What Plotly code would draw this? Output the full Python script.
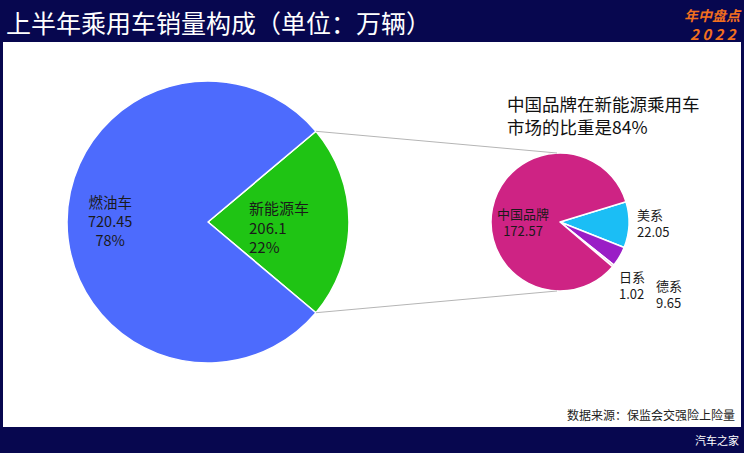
import math
import plotly.graph_objects as go

# ---- data ----
big_labels = ["新能源车", "燃油车"]
big_values = [206.1, 720.45]
big_pct = ["22%", "78%"]

small_labels = ["美系", "德系", "日系", "中国品牌"]
small_values = [22.05, 9.65, 1.02, 172.57]

china_share_text = "中国品牌在新能源乘用车<br>市场的比重是84%"

W, H = 744, 453
FONT = "Noto Sans CJK SC"

def px(x):
    return x / W

def py(y):
    return (H - y) / H

# geometry (pixels)
bcx, bcy, br = 208, 222, 141
scx, scy, sr = 560, 222, 69

green_frac = big_values[0] / sum(big_values)
half_angle = green_frac * 360 / 2
big_rotation = 90 - half_angle

small_rotation = 73

fig = go.Figure()

fig.add_trace(go.Pie(
    labels=big_labels, values=big_values, sort=False, direction="clockwise",
    rotation=big_rotation, textinfo="none", hoverinfo="label+value+percent",
    marker=dict(colors=["#1FC414", "#4D6BFD"], line=dict(color="white", width=1.5)),
    domain=dict(x=[px(bcx - br), px(bcx + br)], y=[py(bcy + br), py(bcy - br)]),
    showlegend=False,
))

fig.add_trace(go.Pie(
    labels=small_labels, values=small_values, sort=False, direction="clockwise",
    rotation=small_rotation, textinfo="none", hoverinfo="label+value",
    marker=dict(colors=["#1BBEF5", "#9A1EC6", "#F2B8D6", "#CE2384"], line=dict(color="white", width=1.5)),
    domain=dict(x=[px(scx - sr), px(scx + sr)], y=[py(scy + sr), py(scy - sr)]),
    showlegend=False,
))

shapes = []
shapes.append(dict(type="rect", xref="paper", yref="paper", x0=px(3), x1=px(741), y0=py(427), y1=py(42),
                   fillcolor="white", line=dict(width=0), layer="below"))
a = math.radians(half_angle)
x_edge = bcx + br * math.cos(a)
y_top = bcy - br * math.sin(a)
y_bot = bcy + br * math.sin(a)
shapes.append(dict(type="line", xref="paper", yref="paper", x0=px(x_edge), y0=py(y_top),
                   x1=px(scx - 3), y1=py(scy - sr), line=dict(color="#B5B5B5", width=1)))
shapes.append(dict(type="line", xref="paper", yref="paper", x0=px(x_edge), y0=py(y_bot),
                   x1=px(scx - 3), y1=py(scy + sr), line=dict(color="#B5B5B5", width=1)))

ann = []
def add(text, x, y, size, color="#1a1a1a", xanchor="left", yanchor="middle", align="left", **kw):
    ann.append(dict(text=text, x=px(x), y=py(y), xref="paper", yref="paper", showarrow=False,
                    xanchor=xanchor, yanchor=yanchor, align=align, borderpad=0,
                    font=dict(family=FONT, size=size, color=color, **kw)))

add("上半年乘用车销量构成（单位：万辆）", 5, 22, 25, color="white")
add("<b><i>年中盘点</i></b>", 713, 15, 14, color="#F26F1E", xanchor="center", align="center")
add("<b><i>2 0 2 2</i></b>", 713, 33, 15, color="#F26F1E", xanchor="center", align="center")
add("汽车之家", 740, 440, 11, color="white", xanchor="right")
add("数据来源：保监会交强险上险量", 736, 414, 12, color="#222222", xanchor="right")
add(china_share_text, 506, 115, 17.5, color="#111111")

add(f"{big_labels[1]}<br>{big_values[1]}<br>{big_pct[1]}", 110, 220, 14.5, xanchor="center", align="center")
add(f"{big_labels[0]}<br>{big_values[0]}<br>{big_pct[0]}", 248, 227, 15)

add(f"{small_labels[3]}<br>{small_values[3]}", 523, 222, 13, xanchor="center", align="center")
add(f"{small_labels[0]}<br>{small_values[0]}", 636, 223, 13)
add(f"{small_labels[2]}<br>{small_values[2]}", 618, 285, 13)
add(f"{small_labels[1]}<br>{small_values[1]}", 655, 294, 13)

fig.update_layout(
    width=W, height=H, margin=dict(l=0, r=0, t=0, b=0),
    paper_bgcolor="#07074F", plot_bgcolor="#07074F",
    shapes=shapes, annotations=ann, showlegend=False,
)

fig.write_html("out.html", config={"displayModeBar": False},
               post_script="document.body.style.margin='0';document.body.style.overflow='hidden';")
